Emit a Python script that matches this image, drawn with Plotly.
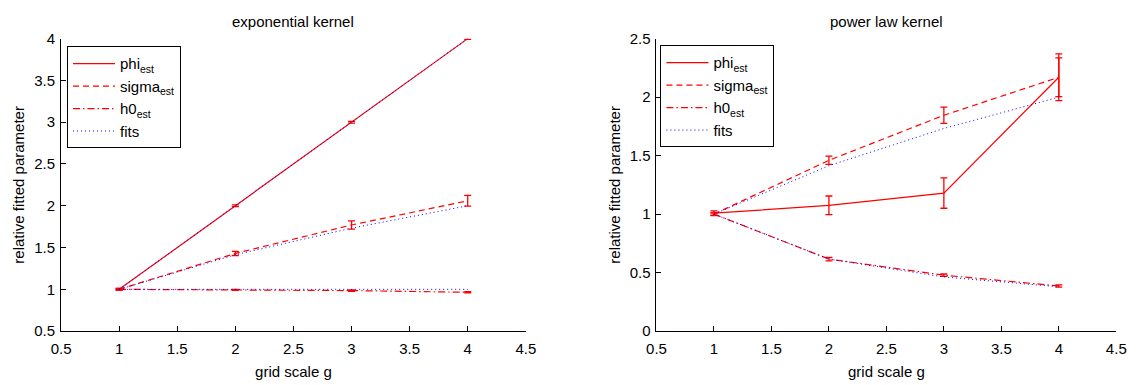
import plotly.graph_objects as go

# ---------------- data ----------------
g = [1, 2, 3, 4]

# exponential kernel
exp_phi = [1.0, 2.0, 3.0, 4.0]
exp_phi_err = [0.01, 0.01, 0.01, 0.01]
exp_sigma = [1.0, 1.43, 1.77, 2.06]
exp_sigma_err = [0.01, 0.025, 0.05, 0.065]
exp_h0 = [1.0, 0.993, 0.985, 0.965]
exp_h0_err = [0.005, 0.006, 0.008, 0.008]
exp_fit_phi = [1.0, 2.0, 3.0, 4.0]
exp_fit_sigma = [1.0, 1.414, 1.732, 2.0]
exp_fit_h0 = [1.0, 1.0, 1.0, 1.0]

# power law kernel
pow_phi = [1.008, 1.075, 1.18, 2.17]
pow_phi_err = [0.02, 0.08, 0.13, 0.2]
pow_sigma = [1.0, 1.46, 1.845, 2.17]
pow_sigma_err = [0.01, 0.035, 0.07, 0.165]
pow_h0 = [1.0, 0.616, 0.478, 0.386]
pow_h0_err = [0.01, 0.015, 0.01, 0.01]
pow_fit_sigma = [1.0, 1.414, 1.732, 2.0]
pow_fit_h0 = [1.0, 0.616, 0.463, 0.379]

titles = ["exponential kernel", "power law kernel"]
names = ["phi<sub>est</sub>", "sigma<sub>est</sub>", "h0<sub>est</sub>", "fits"]
x_ticks = [0.5, 1, 1.5, 2, 2.5, 3, 3.5, 4, 4.5]
y_ticks_left = [0.5, 1, 1.5, 2, 2.5, 3, 3.5, 4]
y_ticks_right = [0, 0.5, 1, 1.5, 2, 2.5]

FONT = "Liberation Sans, Arial, sans-serif"
FS = 15
RED = "#ff0000"
BLUE = "#0000ff"
DASHES = ["solid", "6px,4px", "7px,3px,1.5px,3px"]

fig = go.Figure()


def add_panel(xa, ya, leg, series, errs, fits):
    for i, (vals, err) in enumerate(zip(series, errs)):
        fig.add_trace(go.Scatter(
            x=g, y=vals, mode="lines", name=names[i],
            line=dict(color=RED, width=1.2, dash=DASHES[i]),
            error_y=dict(type="data", array=err, visible=True,
                         color=RED, thickness=1.3, width=3.5),
            xaxis=xa, yaxis=ya, legend=leg, legendgroup=leg + str(i),
        ))
    fx, fy = [], []
    for f in fits:
        fx += g + [None]
        fy += f + [None]
    fig.add_trace(go.Scatter(
        x=fx, y=fy, mode="lines", name=names[3],
        line=dict(color=BLUE, width=1, dash="1px,3px"),
        xaxis=xa, yaxis=ya, legend=leg, legendgroup=leg + "3",
    ))


add_panel("x", "y", "legend",
          [exp_phi, exp_sigma, exp_h0],
          [exp_phi_err, exp_sigma_err, exp_h0_err],
          [exp_fit_phi, exp_fit_sigma, exp_fit_h0])
add_panel("x2", "y2", "legend2",
          [pow_phi, pow_sigma, pow_h0],
          [pow_phi_err, pow_sigma_err, pow_h0_err],
          [pow_fit_sigma, pow_fit_h0])

W, H = 1143, 385
yb, yt = 1 - 337 / H, 1 - 31 / H
dom1 = [52 / W, 525 / W]
dom2 = [658 / W, 1126 / W]

axis_common = dict(
    showline=True, linecolor="black", linewidth=1, mirror=False,
    ticks="inside", ticklen=5, tickcolor="black", tickwidth=1,
    showgrid=False, zeroline=False,
    tickfont=dict(family=FONT, size=FS, color="black"),
)
xt = dict(text="grid scale g", standoff=10, font=dict(size=FS))
yt_title = dict(text="relative fitted parameter", standoff=5, font=dict(size=FS))

legend_common = dict(
    xanchor="left", yanchor="top",
    bgcolor="white", bordercolor="black", borderwidth=1,
    font=dict(family=FONT, size=FS, color="black"),
    tracegroupgap=7, traceorder="normal", itemwidth=42,
)

fig.update_layout(
    width=W, height=H,
    margin=dict(l=0, r=0, t=0, b=0),
    paper_bgcolor="white", plot_bgcolor="white",
    font=dict(family=FONT, size=FS, color="black"),
    xaxis=dict(domain=dom1, range=[0.5, 4.5], tickvals=x_ticks, anchor="y",
               title=xt, ticklabelstandoff=4, **axis_common),
    yaxis=dict(domain=[yb, yt], range=[0.5, 4], tickvals=y_ticks_left, anchor="x",
               title=yt_title, ticklabelstandoff=2, **axis_common),
    xaxis2=dict(domain=dom2, range=[0.5, 4.5], tickvals=x_ticks, anchor="y2",
                title=xt, ticklabelstandoff=4, **axis_common),
    yaxis2=dict(domain=[yb, yt], range=[0, 2.5], tickvals=y_ticks_right, anchor="x2",
                title=yt_title, ticklabelstandoff=2, **axis_common),
    legend=dict(x=58 / W, y=1 - 39 / H, **legend_common),
    legend2=dict(x=662 / W, y=1 - 38 / H, **legend_common),
    showlegend=True,
)

for dom, t in zip([dom1, dom2], titles):
    fig.add_annotation(text=t, x=(dom[0] + dom[1]) / 2, y=1 - 13 / H,
                       xref="paper", yref="paper", showarrow=False,
                       xanchor="center", yanchor="middle",
                       font=dict(family=FONT, size=FS, color="black"))

fig.write_html("out.html")
